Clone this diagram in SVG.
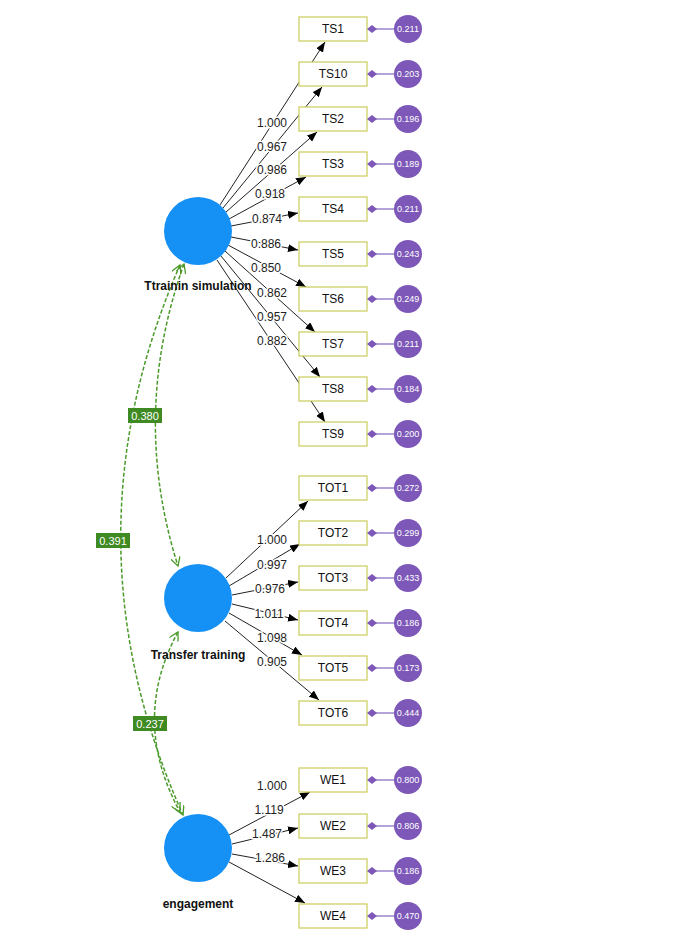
<svg xmlns="http://www.w3.org/2000/svg" width="673" height="952" viewBox="0 0 673 952">
<style>
.box{fill:#fff;stroke:#c8cc5a;stroke-width:1.2}
.bt{font:12px "Liberation Sans",Arial,sans-serif;fill:#111;text-anchor:middle}
.lat{fill:#1590f5}
.lt{font:bold 12px "Liberation Sans",Arial,sans-serif;fill:#111;text-anchor:middle}
.err{fill:#7d58b8}
.et{font:9px "Liberation Sans",Arial,sans-serif;fill:#fff;text-anchor:middle}
.el{stroke:#9b85c9;stroke-width:1.5}
.ld{stroke:#222;stroke-width:1;fill:none;marker-end:url(#ah)}
.lb{font:12px "Liberation Sans",Arial,sans-serif;fill:#222;text-anchor:middle;stroke:#fff;stroke-width:3;paint-order:stroke}
.cv{stroke:#4a9a2a;stroke-width:1.5;stroke-dasharray:4 2;fill:none;marker-start:url(#ga);marker-end:url(#ga)}
.cb{fill:#3f8a22}
.ct{font:11px "Liberation Sans",Arial,sans-serif;fill:#fff;text-anchor:middle}
</style>
<defs>
<marker id="ah" markerWidth="10" markerHeight="8" refX="10" refY="4" orient="auto" markerUnits="userSpaceOnUse"><path d="M0,0L10,4L0,8z" fill="#000"/></marker>
<marker id="ga" markerWidth="10" markerHeight="10" refX="9" refY="5" orient="auto-start-reverse" markerUnits="userSpaceOnUse"><path d="M0,0L9,5L0,10" fill="none" stroke="#4a9a2a" stroke-width="1.3"/></marker>
<marker id="dm" markerWidth="10" markerHeight="10" refX="5" refY="5" orient="auto" markerUnits="userSpaceOnUse"><path d="M0,5L5,1L10,5L5,9z" fill="#7d58b8"/></marker>
</defs>
<g id="connectors">
<path class="ld" d="M220,205L325,42"/>
<path class="ld" d="M223,208L322,87"/>
<path class="ld" d="M226,212L317,132"/>
<path class="ld" d="M229,219L306,177"/>
<path class="ld" d="M231,226L298,213"/>
<path class="ld" d="M231,237L298,250"/>
<path class="ld" d="M228,245L306,287"/>
<path class="ld" d="M225,251L315,332"/>
<path class="ld" d="M221,256L320,377"/>
<path class="ld" d="M217,260L325,422"/>
<path class="ld" d="M226,578L308,501"/>
<path class="ld" d="M229,586L300,544"/>
<path class="ld" d="M232,595L298,582"/>
<path class="ld" d="M232,604L298,620"/>
<path class="ld" d="M229,613L302,655"/>
<path class="ld" d="M225,621L319,700"/>
<path class="ld" d="M229,835L310,792"/>
<path class="ld" d="M232,844L298,828"/>
<path class="ld" d="M232,854L298,866"/>
<path class="ld" d="M229,862L305,903"/>
<g class="lb">
<text x="272" y="127">1.000</text><text x="272" y="151">0.967</text><text x="272" y="174">0.986</text><text x="270" y="198">0.918</text><text x="267" y="223">0.874</text><text x="266" y="248">0.886</text><text x="266" y="272">0.850</text><text x="272" y="297">0.862</text><text x="272" y="321">0.957</text><text x="272" y="345">0.882</text>
<text x="272" y="544">1.000</text><text x="272" y="569">0.997</text><text x="270" y="593">0.976</text><text x="269" y="618">1.011</text><text x="272" y="642">1.098</text><text x="272" y="666">0.905</text>
<text x="272" y="790">1.000</text><text x="269" y="814">1.119</text><text x="267" y="838">1.487</text><text x="270" y="862">1.286</text>
</g>
<path class="cv" d="M184,264Q130,415 178,566"/>
<path class="cv" d="M180,265Q60,540 183,815"/>
<path class="cv" d="M178,632Q130,720 180,812"/>
<g id="cov-labels">
<rect class="cb" x="128" y="408" width="34" height="15"/><text class="ct" x="145" y="420">0.380</text>
<rect class="cb" x="96" y="533" width="34" height="15"/><text class="ct" x="113" y="545">0.391</text>
<rect class="cb" x="133" y="716" width="34" height="15"/><text class="ct" x="150" y="728">0.237</text>
</g>
</g>
<g id="latents">
<g id="ts"><circle class="lat" cx="198" cy="231" r="34"/><text class="lt" x="198" y="290">Ttrainin simulation</text></g>
<g id="tt"><circle class="lat" cx="198" cy="598" r="34"/><text class="lt" x="198" y="659">Transfer training</text></g>
<g id="eng"><circle class="lat" cx="198" cy="848" r="34"/><text class="lt" x="198" y="908">engagement</text></g>
</g>
<g id="indicators">
<g id="n-TS1"><rect class="box" x="299" y="17" width="68" height="24"/><text class="bt" x="333" y="33">TS1</text><line class="el" x1="372" y1="29" x2="396" y2="29" marker-start="url(#dm)"/><circle class="err" cx="408" cy="29" r="14"/><text class="et" x="408" y="32">0.211</text></g>
<g id="n-TS10"><rect class="box" x="299" y="62" width="68" height="24"/><text class="bt" x="333" y="78">TS10</text><line class="el" x1="372" y1="74" x2="396" y2="74" marker-start="url(#dm)"/><circle class="err" cx="408" cy="74" r="14"/><text class="et" x="408" y="77">0.203</text></g>
<g id="n-TS2"><rect class="box" x="299" y="107" width="68" height="24"/><text class="bt" x="333" y="123">TS2</text><line class="el" x1="372" y1="119" x2="396" y2="119" marker-start="url(#dm)"/><circle class="err" cx="408" cy="119" r="14"/><text class="et" x="408" y="122">0.196</text></g>
<g id="n-TS3"><rect class="box" x="299" y="152" width="68" height="24"/><text class="bt" x="333" y="168">TS3</text><line class="el" x1="372" y1="164" x2="396" y2="164" marker-start="url(#dm)"/><circle class="err" cx="408" cy="164" r="14"/><text class="et" x="408" y="167">0.189</text></g>
<g id="n-TS4"><rect class="box" x="299" y="197" width="68" height="24"/><text class="bt" x="333" y="213">TS4</text><line class="el" x1="372" y1="209" x2="396" y2="209" marker-start="url(#dm)"/><circle class="err" cx="408" cy="209" r="14"/><text class="et" x="408" y="212">0.211</text></g>
<g id="n-TS5"><rect class="box" x="299" y="242" width="68" height="24"/><text class="bt" x="333" y="258">TS5</text><line class="el" x1="372" y1="254" x2="396" y2="254" marker-start="url(#dm)"/><circle class="err" cx="408" cy="254" r="14"/><text class="et" x="408" y="257">0.243</text></g>
<g id="n-TS6"><rect class="box" x="299" y="287" width="68" height="24"/><text class="bt" x="333" y="303">TS6</text><line class="el" x1="372" y1="299" x2="396" y2="299" marker-start="url(#dm)"/><circle class="err" cx="408" cy="299" r="14"/><text class="et" x="408" y="302">0.249</text></g>
<g id="n-TS7"><rect class="box" x="299" y="332" width="68" height="24"/><text class="bt" x="333" y="348">TS7</text><line class="el" x1="372" y1="344" x2="396" y2="344" marker-start="url(#dm)"/><circle class="err" cx="408" cy="344" r="14"/><text class="et" x="408" y="347">0.211</text></g>
<g id="n-TS8"><rect class="box" x="299" y="377" width="68" height="24"/><text class="bt" x="333" y="393">TS8</text><line class="el" x1="372" y1="389" x2="396" y2="389" marker-start="url(#dm)"/><circle class="err" cx="408" cy="389" r="14"/><text class="et" x="408" y="392">0.184</text></g>
<g id="n-TS9"><rect class="box" x="299" y="422" width="68" height="24"/><text class="bt" x="333" y="438">TS9</text><line class="el" x1="372" y1="434" x2="396" y2="434" marker-start="url(#dm)"/><circle class="err" cx="408" cy="434" r="14"/><text class="et" x="408" y="437">0.200</text></g>
<g id="n-TOT1"><rect class="box" x="299" y="476" width="68" height="24"/><text class="bt" x="333" y="492">TOT1</text><line class="el" x1="372" y1="488" x2="396" y2="488" marker-start="url(#dm)"/><circle class="err" cx="408" cy="488" r="14"/><text class="et" x="408" y="491">0.272</text></g>
<g id="n-TOT2"><rect class="box" x="299" y="521" width="68" height="24"/><text class="bt" x="333" y="537">TOT2</text><line class="el" x1="372" y1="533" x2="396" y2="533" marker-start="url(#dm)"/><circle class="err" cx="408" cy="533" r="14"/><text class="et" x="408" y="536">0.299</text></g>
<g id="n-TOT3"><rect class="box" x="299" y="566" width="68" height="24"/><text class="bt" x="333" y="582">TOT3</text><line class="el" x1="372" y1="578" x2="396" y2="578" marker-start="url(#dm)"/><circle class="err" cx="408" cy="578" r="14"/><text class="et" x="408" y="581">0.433</text></g>
<g id="n-TOT4"><rect class="box" x="299" y="611" width="68" height="24"/><text class="bt" x="333" y="627">TOT4</text><line class="el" x1="372" y1="623" x2="396" y2="623" marker-start="url(#dm)"/><circle class="err" cx="408" cy="623" r="14"/><text class="et" x="408" y="626">0.186</text></g>
<g id="n-TOT5"><rect class="box" x="299" y="656" width="68" height="24"/><text class="bt" x="333" y="672">TOT5</text><line class="el" x1="372" y1="668" x2="396" y2="668" marker-start="url(#dm)"/><circle class="err" cx="408" cy="668" r="14"/><text class="et" x="408" y="671">0.173</text></g>
<g id="n-TOT6"><rect class="box" x="299" y="701" width="68" height="24"/><text class="bt" x="333" y="717">TOT6</text><line class="el" x1="372" y1="713" x2="396" y2="713" marker-start="url(#dm)"/><circle class="err" cx="408" cy="713" r="14"/><text class="et" x="408" y="716">0.444</text></g>
<g id="n-WE1"><rect class="box" x="299" y="768" width="68" height="24"/><text class="bt" x="333" y="784">WE1</text><line class="el" x1="372" y1="780" x2="396" y2="780" marker-start="url(#dm)"/><circle class="err" cx="408" cy="780" r="14"/><text class="et" x="408" y="783">0.800</text></g>
<g id="n-WE2"><rect class="box" x="299" y="814" width="68" height="24"/><text class="bt" x="333" y="830">WE2</text><line class="el" x1="372" y1="826" x2="396" y2="826" marker-start="url(#dm)"/><circle class="err" cx="408" cy="826" r="14"/><text class="et" x="408" y="829">0.806</text></g>
<g id="n-WE3"><rect class="box" x="299" y="859" width="68" height="24"/><text class="bt" x="333" y="875">WE3</text><line class="el" x1="372" y1="871" x2="396" y2="871" marker-start="url(#dm)"/><circle class="err" cx="408" cy="871" r="14"/><text class="et" x="408" y="874">0.186</text></g>
<g id="n-WE4"><rect class="box" x="299" y="904" width="68" height="24"/><text class="bt" x="333" y="920">WE4</text><line class="el" x1="372" y1="916" x2="396" y2="916" marker-start="url(#dm)"/><circle class="err" cx="408" cy="916" r="14"/><text class="et" x="408" y="919">0.470</text></g>
</g>
</svg>
